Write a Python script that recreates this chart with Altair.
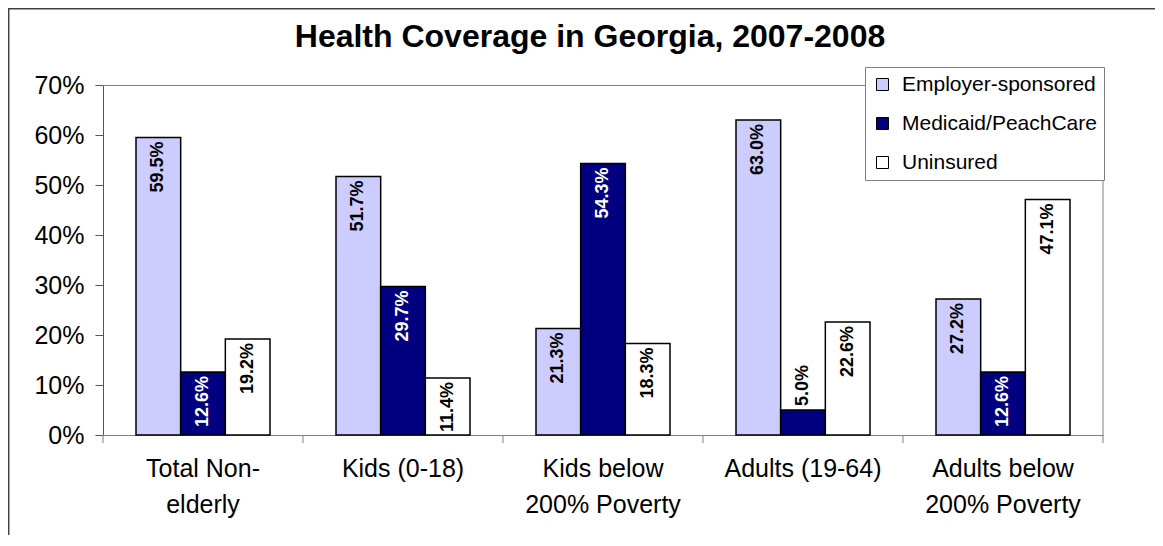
import altair as alt
import pandas as pd

# ---------------- data ----------------
categories = [
    "Total Non-|elderly",
    "Kids (0-18)",
    "Kids below|200% Poverty",
    "Adults (19-64)",
    "Adults below|200% Poverty",
]
series = ["Employer-sponsored", "Medicaid/PeachCare", "Uninsured"]
employer = [59.5, 51.7, 21.3, 63.0, 27.2]
medicaid = [12.6, 29.7, 54.3, 5.0, 12.6]
uninsured = [19.2, 11.4, 18.3, 22.6, 47.1]
colors = ["#CCCCFF", "#000080", "#FFFFFF"]
y_ticks = [0, 10, 20, 30, 40, 50, 60, 70]
title_text = "Health Coverage in Georgia, 2007-2008"

rows = []
for s, vals in zip(series, [employer, medicaid, uninsured]):
    for c, v in zip(categories, vals):
        rows.append({"category": c, "series": s, "value": v, "label": f"{v:.1f}%"})
df = pd.DataFrame(rows)
cat_df = pd.DataFrame({"category": categories})
one = pd.DataFrame({"k": [0]})

FONT = "Liberation Sans"
W, H = 1000, 350
STEP = W / len(categories)

x_enc = alt.X(
    "category:N",
    sort=categories,
    scale=alt.Scale(paddingInner=0.33, paddingOuter=0.165),
    axis=alt.Axis(
        title=None,
        labelExpr="split(datum.label, '|')",
        labelFontSize=25,
        labelFont=FONT,
        labelColor="black",
        labelPadding=21,
        labelLineHeight=36,
        labelAngle=0,
        labelAlign="center",
        labelBaseline="top",
        labelLimit=0,
        ticks=False,
        tickSize=0,
        domainColor="#808080",
        domainWidth=1,
    ),
)
xoff = alt.XOffset("series:N", sort=series, scale=alt.Scale(paddingInner=0, paddingOuter=0))
y_enc = alt.Y(
    "value:Q",
    scale=alt.Scale(domain=[0, 70], nice=False),
    axis=alt.Axis(
        title=None,
        values=y_ticks,
        labelExpr="datum.value + '%'",
        labelFontSize=25,
        labelFont=FONT,
        labelColor="black",
        labelPadding=11,
        tickSize=8,
        tickColor="#555555",
        domainColor="#555555",
        grid=False,
    ),
)

bars = alt.Chart(df).mark_bar(stroke="black", strokeWidth=1.5).encode(
    x=x_enc,
    xOffset=xoff,
    y=y_enc,
    color=alt.Color(
        "series:N",
        sort=series,
        scale=alt.Scale(domain=series, range=colors),
        legend=alt.Legend(
            title=None,
            orient="none",
            legendX=762,
            legendY=-18,
            direction="vertical",
            symbolType="square",
            symbolSize=144,
            symbolStrokeColor="black",
            symbolStrokeWidth=1,
            labelFontSize=21,
            labelFont=FONT,
            labelColor="black",
            labelOffset=9,
            labelLimit=0,
            rowPadding=17,
            padding=7,
            fillColor="white",
            strokeColor="#808080",
        ),
    ),
)

inside_labels = alt.Chart(df).transform_filter(alt.datum.value >= 10).mark_text(
    angle=270, align="right", baseline="middle", dx=-4,
    fontSize=18, fontWeight="bold", font=FONT,
).encode(
    x=alt.X("category:N", sort=categories),
    xOffset=alt.XOffset("series:N", sort=series),
    y=alt.Y("value:Q"),
    text="label:N",
    color=alt.condition(alt.datum.series == "Medicaid/PeachCare", alt.value("white"), alt.value("black")),
)

outside_labels = alt.Chart(df).transform_filter(alt.datum.value < 10).mark_text(
    angle=270, align="left", baseline="middle", dx=4,
    fontSize=18, fontWeight="bold", font=FONT, color="black",
).encode(
    x=alt.X("category:N", sort=categories),
    xOffset=alt.XOffset("series:N", sort=series),
    y=alt.Y("value:Q"),
    text="label:N",
)

# category divider ticks below the x axis (half a step left of each band centre)
ticks = alt.Chart(cat_df).mark_rule(color="#808080", strokeWidth=1, xOffset=-STEP / 2).encode(
    x=alt.X("category:N", sort=categories),
    y=alt.value(H),
    y2=alt.value(H + 8),
)

frame_top = alt.Chart(one).mark_rule(color="#808080", strokeWidth=1).encode(
    x=alt.value(0), x2=alt.value(W), y=alt.value(0.5)
)
frame_right = alt.Chart(one).mark_rule(color="#808080", strokeWidth=1).encode(
    x=alt.value(W), y=alt.value(0), y2=alt.value(H + 8)
)
outer_top = alt.Chart(one).mark_rule(color="#404040", strokeWidth=1.5).encode(
    x=alt.value(-95), x2=alt.value(1060), y=alt.value(-76.3)
)
outer_left = alt.Chart(one).mark_rule(color="#404040", strokeWidth=1.5).encode(
    x=alt.value(-94.3), y=alt.value(-77), y2=alt.value(470)
)

title = alt.Chart(pd.DataFrame({"t": [title_text]})).mark_text(
    fontSize=32, fontWeight="bold", font=FONT, align="center", baseline="alphabetic", color="black"
).encode(text="t:N", x=alt.value(487), y=alt.value(-38))

chart = alt.layer(
    outer_top, outer_left, frame_top, frame_right, ticks,
    bars, inside_labels, outside_labels, title,
).properties(
    width=W,
    height=H,
    autosize=alt.AutoSizeParams(type="none"),
    padding={"left": 95, "top": 77, "right": 52, "bottom": 100},
    background="white",
).configure_view(stroke=None)

chart.save("out.html", embed_options={"renderer": "svg", "actions": False})
